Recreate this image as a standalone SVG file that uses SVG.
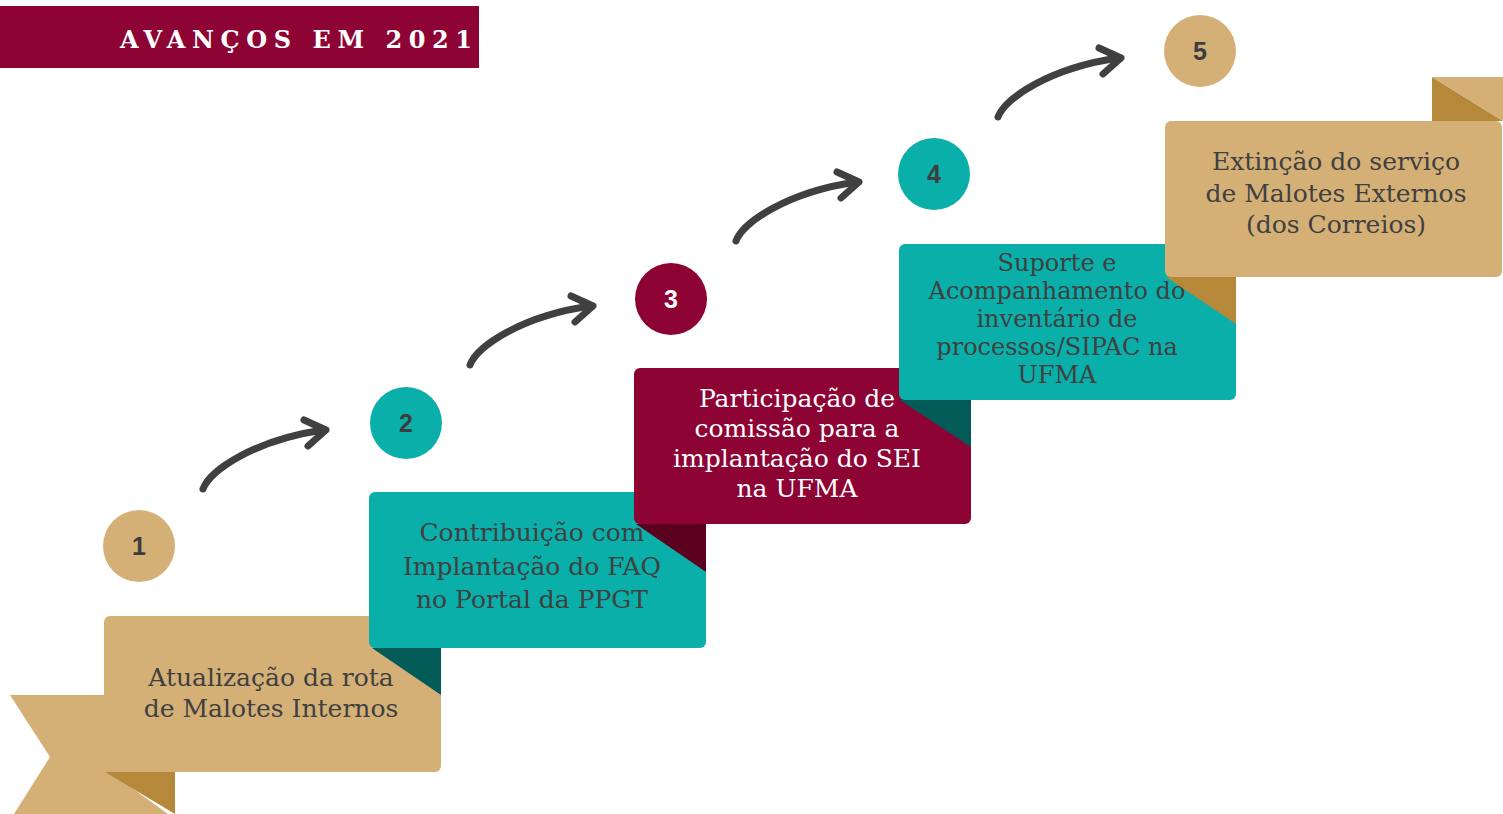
<svg xmlns="http://www.w3.org/2000/svg" xmlns:xlink="http://www.w3.org/1999/xlink" width="1503" height="814" viewBox="0 0 1503 814">
<style>
.tan{fill:#D4B077}.teal{fill:#0AAFAA}.crim{fill:#8C0334}
.dtan{fill:#B5883A}.dteal{fill:#035B58}.dcrim{fill:#5C0020}
.lbl{font-family:"DejaVu Serif","Liberation Serif",serif;font-size:25px;fill:#404040;text-anchor:middle}
.sm{font-size:24px}
.lblw{fill:#FFFFFF}
.num{font-family:"Liberation Sans",Arial,sans-serif;font-weight:bold;font-size:25px;fill:#3D3D3D;text-anchor:middle}
.arr{fill:none;stroke:#404040;stroke-width:7;stroke-linecap:round;stroke-linejoin:round}
</style>
<defs>
<g id="arrow">
<path class="arr" d="M203,489 C210,470 255,440 323,430"/>
<polyline class="arr" points="304,420 326,430 308,446"/>
</g>
</defs>
<rect x="0" y="6" width="479" height="62" class="crim"/>
<text x="120" y="48" textLength="352" lengthAdjust="spacing" style="font-family:'DejaVu Serif','Liberation Serif',serif;font-weight:bold;font-size:24px;fill:#FFFFFF">AVANÇOS EM 2021</text>

<g id="node1">
<polygon class="tan" points="10,695 110,695 110,772 168,814 14,814 50,757"/>
<polygon class="dtan" points="105,772 175,772 175,814"/>
<rect x="104" y="616" width="337" height="156" rx="6" class="tan"/>
<text class="lbl" x="271" y="686">Atualização da rota</text>
<text class="lbl" x="271" y="717">de Malotes Internos</text>
<circle cx="139" cy="546" r="36" class="tan"/>
<text class="num" x="139" y="555">1</text>
</g>

<g id="node2">
<polygon class="dteal" points="372,648 441,648 441,695"/>
<rect x="369" y="492" width="337" height="156" rx="6" class="teal"/>
<text class="lbl" x="532" y="541">Contribuição com</text>
<text class="lbl" x="532" y="575">Implantação do FAQ</text>
<text class="lbl" x="532" y="608">no Portal da PPGT</text>
<circle cx="406" cy="423" r="36" class="teal"/>
<text class="num" x="406" y="432">2</text>
</g>

<g id="node3">
<polygon class="dcrim" points="636,524 706,524 706,572"/>
<rect x="634" y="368" width="337" height="156" rx="6" class="crim"/>
<text class="lbl lblw" x="797" y="407">Participação de</text>
<text class="lbl lblw" x="797" y="437">comissão para a</text>
<text class="lbl lblw" x="797" y="467">implantação do SEI</text>
<text class="lbl lblw" x="797" y="497">na UFMA</text>
<circle cx="671" cy="299" r="36" class="crim"/>
<text class="num" x="671" y="308" style="fill:#FFFFFF">3</text>
</g>

<g id="node4">
<polygon class="dteal" points="900,400 971,400 971,447"/>
<rect x="899" y="244" width="337" height="156" rx="6" class="teal"/>
<text class="lbl sm" x="1057" y="271">Suporte e</text>
<text class="lbl sm" x="1057" y="299">Acompanhamento do</text>
<text class="lbl sm" x="1057" y="327">inventário de</text>
<text class="lbl sm" x="1057" y="355">processos/SIPAC na</text>
<text class="lbl sm" x="1057" y="383">UFMA</text>
<circle cx="934" cy="174" r="36" class="teal"/>
<text class="num" x="934" y="183">4</text>
</g>

<g id="node5">
<polygon class="dtan" points="1166,277 1236,277 1236,324"/>
<polygon class="dtan" points="1432,77 1432,121 1503,121"/>
<polygon class="tan" points="1432,77 1503,77 1503,121"/>
<rect x="1165" y="121" width="337" height="156" rx="6" class="tan"/>
<text class="lbl" x="1336" y="170">Extinção do serviço</text>
<text class="lbl" x="1336" y="202">de Malotes Externos</text>
<text class="lbl" x="1336" y="233">(dos Correios)</text>
<circle cx="1200" cy="51" r="36" class="tan"/>
<text class="num" x="1200" y="60">5</text>
</g>

<g id="connectors">
<use xlink:href="#arrow"/>
<use xlink:href="#arrow" transform="translate(267,-124)"/>
<use xlink:href="#arrow" transform="translate(533,-248)"/>
<use xlink:href="#arrow" transform="translate(795,-372)"/>
</g>
</svg>
